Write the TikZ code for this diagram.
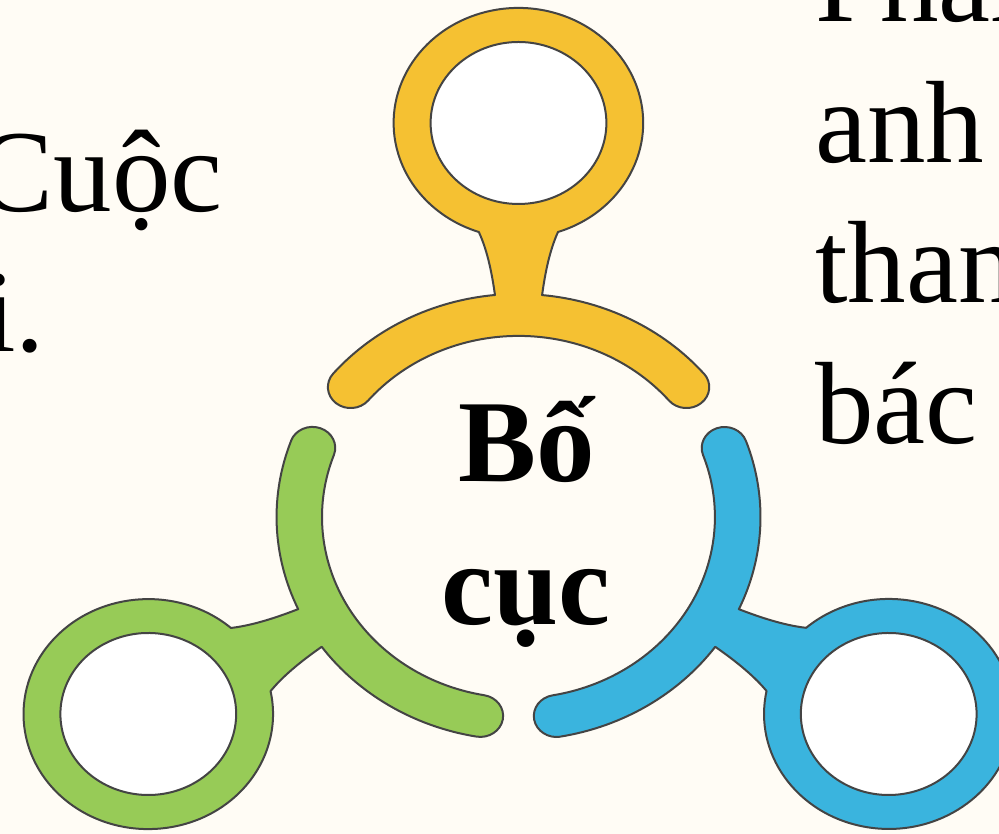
\documentclass[tikz,border=0pt]{standalone}
\usepackage{fontspec}
\setmainfont{Liberation Serif}
\definecolor{pagebg}{HTML}{FFFCF5}
\definecolor{petalyellow}{HTML}{F5C132}
\definecolor{petalgreen}{HTML}{97CB57}
\definecolor{petalblue}{HTML}{3AB4DE}
\definecolor{petalline}{HTML}{444444}
\tikzset{%
	bodytext/.style  = {font=\fontsize{117}{140}\selectfont, inner sep=0pt},
	titletext/.style = {font=\fontsize{117}{140}\selectfont\bfseries, inner sep=0pt},
	petal/.style     = {draw=petalline, line width=2pt, line join=round},
}
\begin{document}
\begin{tikzpicture}[x=1pt,y=1pt]
	\fill[pagebg] (0,0) rectangle (999,834);
	\useasboundingbox (0,0) rectangle (999,834);
	
	\foreach \ang/\col in {0/petalyellow,120/petalgreen,-120/petalblue} {
		\begin{scope}[shift={(518.5,317)},xscale=1.085,rotate=\ang]
			\draw[petal,fill=\col] (40:223pt) arc[start angle=40,end angle=84.4,radius=223pt]
				.. controls (24,240) and (28,265) .. (36.4,285)
				arc[start angle=-71.5,end angle=251.5,radius=115pt]
				.. controls (-28,265) and (-24,240) .. (-21.7,222)
				arc[start angle=95.6,end angle=140,radius=223pt]
				arc[start angle=140,end angle=320,radius=21pt]
				arc[start angle=140,end angle=40,radius=181pt]
				arc[start angle=220,end angle=400,radius=21pt] -- cycle;
			\draw[petal,fill=white] (0,394) circle[radius=81pt];
		\end{scope}
	}
	
	\node[titletext,anchor=base] (bo) at (526.5,352) {Bố};
	\node[titletext,anchor=base] (cuc) at (526,209) {cục};
	
	\node[bodytext,anchor=base east] (cuoc) at (223,622) {Cuộc};
	\node[bodytext,anchor=base east] (icham) at (45,482) {i.};
	
	\foreach \txt [count=\i from 0, evaluate=\i as \yeval using 812-140.5*\i] in {Phần,anh,than,bác}
		\node[bodytext,anchor=base west] (right\i) at (815,\yeval) {\txt};
\end{tikzpicture}
\end{document}
